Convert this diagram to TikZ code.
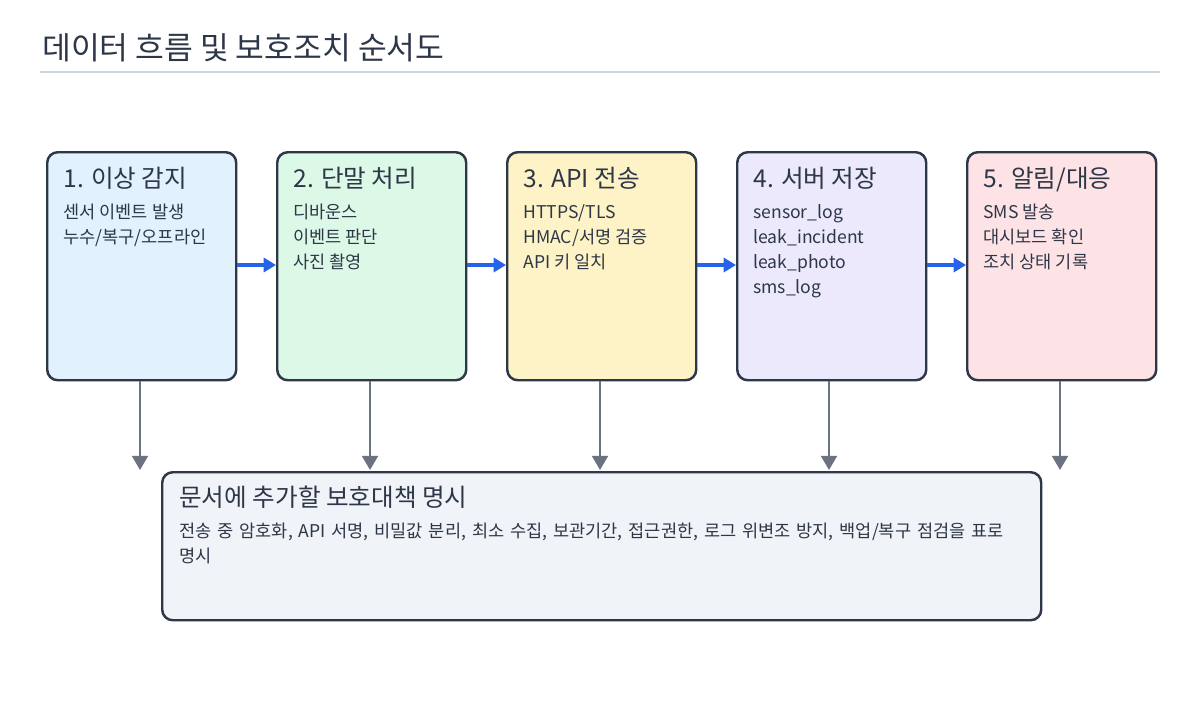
\documentclass[tikz,border=0pt]{standalone}
\usepackage{fontspec}
\setmainfont{Noto Sans CJK KR}
\usetikzlibrary{arrows.meta}
\definecolor{ink}{HTML}{2D3748}
\definecolor{bl}{HTML}{2563EB}
\definecolor{gr}{HTML}{6B7280}
\definecolor{rule}{HTML}{CBD5E0}
\definecolor{pf}{HTML}{F0F4F8}
\definecolor{c1}{HTML}{E1F1FD}\definecolor{c2}{HTML}{DCF8E6}\definecolor{c3}{HTML}{FDF3C6}\definecolor{c4}{HTML}{ECE9FD}\definecolor{c5}{HTML}{FDE3E5}
\begin{document}
\begin{tikzpicture}[x=0.02cm,y=-0.02cm,
 box/.style={draw=ink,line width=1.4pt,rounded corners=6pt,anchor=north west,minimum width=189*0.02cm,minimum height=228*0.02cm},
 ttl/.style={anchor=north west,font=\fontsize{14}{16}\selectfont,text=ink,inner sep=0},
 bd/.style={anchor=north west,font=\fontsize{10}{14.2}\selectfont,text=ink,inner sep=0,align=left},
 ba/.style={-{Triangle[length=7pt,width=8pt]},bl,line width=2pt},
 ga/.style={-{Triangle[length=8pt,width=9pt]},gr,line width=1.3pt}]
\useasboundingbox (0,0) rectangle (1200,720);
\node[anchor=west,font=\fontsize{17.8}{20}\selectfont,text=ink,inner sep=0] (t) at (42,48) {데이터 흐름 및 보호조치 순서도};
\draw[rule,line width=0.8pt] (40,72) -- (1160,72);
\node[box,fill=c1] (b1) at (46,151) {};
\node[box,fill=c2] (b2) at (276,151) {};
\node[box,fill=c3] (b3) at (506,151) {};
\node[box,fill=c4] (b4) at (736,151) {};
\node[box,fill=c5] (b5) at (966,151) {};
\node[ttl] (t1) at (63,167) {1. 이상 감지};
\node[bd] (d1) at (63,204) {센서 이벤트 발생\\누수/복구/오프라인};
\node[ttl] (t2) at (293,167) {2. 단말 처리};
\node[bd] (d2) at (293,204) {디바운스\\이벤트 판단\\사진 촬영};
\node[ttl] (t3) at (523,167) {3. API 전송};
\node[bd] (d3) at (523,204) {HTTPS/TLS\\HMAC/서명 검증\\API 키 일치};
\node[ttl] (t4) at (753,167) {4. 서버 저장};
\node[bd] (d4) at (753,204) {sensor\_log\\leak\_incident\\leak\_photo\\sms\_log};
\node[ttl] (t5) at (983,167) {5. 알림/대응};
\node[bd] (d5) at (983,204) {SMS 발송\\대시보드 확인\\조치 상태 기록};
\draw[ba] (b1.east|-0,265) -- (b2.west|-0,265);
\draw[ba] (b2.east|-0,265) -- (b3.west|-0,265);
\draw[ba] (b3.east|-0,265) -- (b4.west|-0,265);
\draw[ba] (b4.east|-0,265) -- (b5.west|-0,265);
\node[draw=ink,line width=1.4pt,rounded corners=6pt,fill=pf,anchor=north west,minimum width=879*0.02cm,minimum height=148*0.02cm] (p) at (161,471) {};
\node[ttl] (pt) at (179,486) {문서에 추가할 보호대책 명시};
\node[bd,text width=830*0.02cm] (pd) at (179,523) {전송 중 암호화, API 서명, 비밀값 분리, 최소 수집, 보관기간, 접근권한, 로그 위변조 방지, 백업/복구 점검을 표로\\명시};
\coordinate (e1) at (140,470);\coordinate (e2) at (370,470);\coordinate (e3) at (600,470);\coordinate (e4) at (829,470);\coordinate (e5) at (1060,470);
\draw[ga] (e1|-b1.south) -- (e1);
\draw[ga] (e2|-b2.south) -- (e2);
\draw[ga] (e3|-b3.south) -- (e3);
\draw[ga] (e4|-b4.south) -- (e4);
\draw[ga] (e5|-b5.south) -- (e5);
\end{tikzpicture}
\end{document}
